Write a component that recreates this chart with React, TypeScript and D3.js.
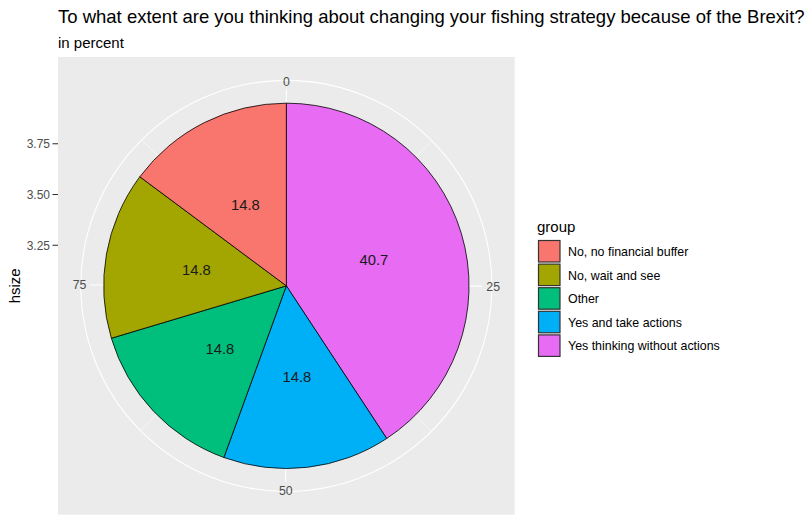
import React, { useEffect, useRef } from 'react';
import * as d3 from 'd3';

// data (clockwise from 12 o'clock)
const groups = [
  'Yes thinking without actions',
  'Yes and take actions',
  'Other',
  'No, wait and see',
  'No, no financial buffer',
];
const percents = [40.7, 14.8, 14.8, 14.8, 14.8];
const groupColors = ['#E76BF3', '#00B0F6', '#00BF7D', '#A3A500', '#F8766D'];

// legend order (alphabetical, as ggplot sorts the factor)
const legendGroups = [
  'No, no financial buffer',
  'No, wait and see',
  'Other',
  'Yes and take actions',
  'Yes thinking without actions',
];

const thetaBreaks = [0, 25, 50, 75];
const thetaMinor = [12.5, 37.5, 62.5, 87.5];
const rBreaks = [3.25, 3.5, 3.75];
const hsize = 3.5;

const W = 808;
const H = 516;
const FONT = '"Liberation Sans", Arial, sans-serif';

export default function App() {
  const ref = useRef<SVGSVGElement>(null);

  useEffect(() => {
    if (!ref.current) return;
    const svg = d3.select(ref.current);
    svg.selectAll('*').remove();

    // panel box
    const panel = { x: 58, y: 57, w: 456.7, h: 457.7 };
    const cx = panel.x + panel.w / 2;
    const cy = panel.y + panel.h / 2;
    const rMax = 0.4 * panel.w;

    const total = d3.sum(percents);
    const theta = d3.scaleLinear().domain([0, total]).range([0, 2 * Math.PI]);
    // bar of width 0.9 centred on hsize
    const rScale = d3.scaleLinear().domain([hsize - 0.45, hsize + 0.45]).range([0, rMax]);

    svg.append('rect')
      .attr('x', panel.x).attr('y', panel.y)
      .attr('width', panel.w).attr('height', panel.h)
      .attr('fill', '#EBEBEB');

    const g = svg.append('g').attr('transform', `translate(${cx},${cy})`);

    // grid: outer circle, radial circles, theta spokes
    const outerR = 205.5;
    g.append('circle').attr('r', outerR).attr('fill', 'none')
      .attr('stroke', '#FFFFFF').attr('stroke-width', 1.07);
    g.selectAll('.rgrid').data(rBreaks).enter().append('circle')
      .attr('r', d => rScale(d)).attr('fill', 'none')
      .attr('stroke', '#FFFFFF').attr('stroke-width', 1.07);
    g.selectAll('.tminor').data(thetaMinor).enter().append('line')
      .attr('x1', 0).attr('y1', 0)
      .attr('x2', d => outerR * Math.sin(theta(d)))
      .attr('y2', d => -outerR * Math.cos(theta(d)))
      .attr('stroke', '#FFFFFF').attr('stroke-width', 0.53);
    g.selectAll('.tmajor').data(thetaBreaks).enter().append('line')
      .attr('x1', 0).attr('y1', 0)
      .attr('x2', d => 196 * Math.sin(theta(d)))
      .attr('y2', d => -196 * Math.cos(theta(d)))
      .attr('stroke', '#FFFFFF').attr('stroke-width', 1.07);

    // slices
    const pie = d3.pie<number>().sort(null).value(d => d)
      .startAngle(0).endAngle(2 * Math.PI);
    const arcs = pie(percents);
    const arc = d3.arc<d3.PieArcDatum<number>>()
      .innerRadius(0).outerRadius(rScale(hsize + 0.45));

    g.selectAll('.slice').data(arcs).enter().append('path')
      .attr('d', arc)
      .attr('fill', (d, i) => groupColors[i])
      .attr('stroke', '#000000')
      .attr('stroke-width', 0.8);

    // value labels at x = hsize
    g.selectAll('.val').data(arcs).enter().append('text')
      .attr('x', d => rScale(hsize) * Math.sin((d.startAngle + d.endAngle) / 2))
      .attr('y', d => -rScale(hsize) * Math.cos((d.startAngle + d.endAngle) / 2))
      .attr('dy', '0.36em')
      .attr('text-anchor', 'middle')
      .style('font-family', FONT).style('font-size', '14.8px').style('fill', '#1A1A1A')
      .text(d => d.data.toFixed(1));

    // theta axis labels
    const labR = 200;
    g.selectAll('.tlab').data(thetaBreaks).enter().append('text')
      .attr('x', d => labR * Math.sin(theta(d)))
      .attr('y', d => -labR * Math.cos(theta(d)))
      .attr('text-anchor', d => {
        const hj = 0.5 - Math.sin(theta(d)) / 2;
        return hj < 0.25 ? 'start' : hj > 0.75 ? 'end' : 'middle';
      })
      .attr('dy', d => `${(0.5 - Math.cos(theta(d)) / 2) * 0.72}em`)
      .style('font-family', FONT).style('font-size', '12.3px').style('fill', '#4D4D4D')
      .text(d => d);

    // radial axis on the left
    const yAxis = svg.append('g');
    yAxis.selectAll('line').data(rBreaks).enter().append('line')
      .attr('x1', panel.x - 5.5).attr('x2', panel.x)
      .attr('y1', d => cy - rScale(d)).attr('y2', d => cy - rScale(d))
      .attr('stroke', '#333333').attr('stroke-width', 1.07);
    yAxis.selectAll('text').data(rBreaks).enter().append('text')
      .attr('x', panel.x - 8)
      .attr('y', d => cy - rScale(d))
      .attr('dy', '0.36em')
      .attr('text-anchor', 'end')
      .style('font-family', FONT).style('font-size', '12px').style('fill', '#4D4D4D')
      .text(d => d.toFixed(2));

    svg.append('text')
      .attr('transform', `translate(20,${cy}) rotate(-90)`)
      .attr('text-anchor', 'middle')
      .style('font-family', FONT).style('font-size', '15px').style('fill', '#000000')
      .text('hsize');

    // titles
    svg.append('text')
      .attr('x', panel.x).attr('y', 23.3)
      .style('font-family', FONT).style('font-size', '18.5px').style('fill', '#000000')
      .text('To what extent are you thinking about changing your fishing strategy because of the Brexit?');
    svg.append('text')
      .attr('x', panel.x).attr('y', 47.5)
      .style('font-family', FONT).style('font-size', '15px').style('fill', '#000000')
      .text('in percent');

    // legend
    const legend = svg.append('g').attr('transform', 'translate(537,0)');
    legend.append('text')
      .attr('x', 0).attr('y', 232)
      .style('font-family', FONT).style('font-size', '15px').style('fill', '#000000')
      .text('group');
    const step = 23.6;
    const items = legend.selectAll('.item').data(legendGroups).enter().append('g')
      .attr('transform', (d, i) => `translate(0,${240 + i * step})`);
    items.append('rect')
      .attr('x', 1.5).attr('y', 0.5)
      .attr('width', 21.5).attr('height', 21.5)
      .attr('fill', d => groupColors[groups.indexOf(d)])
      .attr('stroke', '#333333').attr('stroke-width', 1.2);
    items.append('text')
      .attr('x', 31).attr('y', 11.5)
      .attr('dy', '0.36em')
      .style('font-family', FONT).style('font-size', '12.4px').style('fill', '#000000')
      .text(d => d);
  }, []);

  return (
    <div style={{ position: 'absolute', left: 0, top: 0, background: '#FFFFFF' }}>
      <svg ref={ref} width={W} height={H} style={{ display: 'block' }} />
    </div>
  );
}
